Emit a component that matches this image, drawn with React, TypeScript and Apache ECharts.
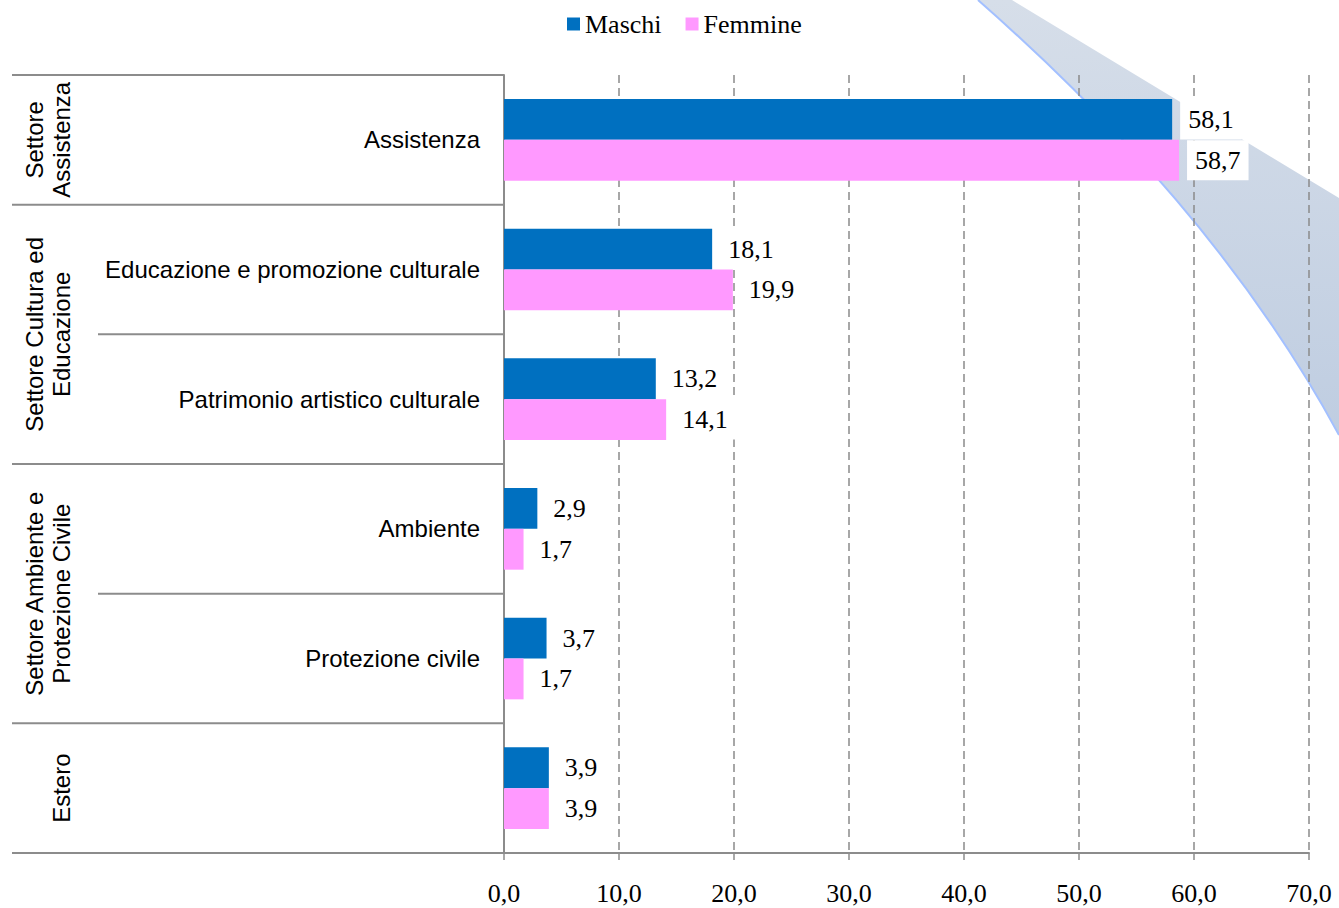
import React, { useEffect, useRef } from "react";
import * as echarts from "echarts";

const categories = [
  "Assistenza",
  "Educazione e promozione culturale",
  "Patrimonio artistico culturale",
  "Ambiente",
  "Protezione civile",
  "",
];
const maschi = [58.1, 18.1, 13.2, 2.9, 3.7, 3.9];
const femmine = [58.7, 19.9, 14.1, 1.7, 1.7, 3.9];
const groupNames = [
  "Settore\nAssistenza",
  "Settore Cultura ed\nEducazione",
  "Settore Ambiente e\nProtezione Civile",
  "Estero",
];
const groupSpans = [1, 2, 2, 1];
const xMin = 0;
const xMax = 70;
const xInterval = 10;

const W = 1339;
const H = 908;
const GRID_LEFT = 504;
const GRID_RIGHT = 30;
const GRID_TOP = 75;
const GRID_BOTTOM = 55;

echarts.graphic.registerShape(
  "swoosh",
  echarts.graphic.extendPath("M978,0 Q1218,211 1339,435 L1339,198 L1012,0 Z", {})
);

const fmt = (v: number) => v.toFixed(1).replace(".", ",");
const SERIF = "Liberation Serif, Times New Roman, serif";
const SANS = "Liberation Sans, Arial, sans-serif";

export default function App() {
  const ref = useRef<HTMLDivElement>(null);
  useEffect(() => {
    if (!ref.current) return;
    const chart = echarts.init(ref.current, undefined, { renderer: "svg" });
    const plotBottom = H - GRID_BOTTOM;
    const band = (plotBottom - GRID_TOP) / categories.length;
    const lineColor = "#8c8c8c";
    const graphics: any[] = [];

    graphics.push({
      type: "swoosh",
      x: 0,
      y: 0,
      z: -10,
      silent: true,
      style: {
        fill: new echarts.graphic.LinearGradient(0, 0, 0, 1, [
          { offset: 0, color: "#d6dee9" },
          { offset: 1, color: "#bfcde1" },
        ]),
      },
    });
    graphics.push({
      type: "bezierCurve",
      z: -9,
      silent: true,
      shape: { x1: 978, y1: 0, x2: 1339, y2: 435, cpx1: 1218, cpy1: 211 },
      style: { stroke: "#a3c0ff", lineWidth: 2, fill: null },
    });

    const groupStart: number[] = [];
    let acc = 0;
    groupSpans.forEach((s) => {
      groupStart.push(acc);
      acc += s;
    });
    for (let i = 0; i <= categories.length; i++) {
      const y = GRID_TOP + band * i;
      const isGroupEdge = i === categories.length || groupStart.includes(i);
      graphics.push({
        type: "line",
        silent: true,
        shape: { x1: isGroupEdge ? 12 : 98, y1: y, x2: GRID_LEFT, y2: y },
        style: { stroke: lineColor, lineWidth: 2 },
      });
    }
    groupNames.forEach((name, gi) => {
      const start = groupStart[gi];
      const cy = GRID_TOP + band * (start + groupSpans[gi] / 2);
      const lines = name.split("\n").length;
      graphics.push({
        type: "text",
        silent: true,
        x: lines > 1 ? 48 : 61,
        y: cy,
        rotation: Math.PI / 2,
        style: {
          text: name,
          align: "center",
          verticalAlign: "middle",
          fontFamily: SANS,
          fontSize: 24,
          lineHeight: 27,
          fill: "#000",
        },
      });
    });

    const labelCfg = {
      show: true,
      position: "right",
      distance: 8,
      formatter: (p: any) => fmt(p.value),
      fontFamily: SERIF,
      fontSize: 26,
      lineHeight: 26,
      color: "#000",
      backgroundColor: "#fff",
      padding: [7, 8],
    };

    chart.setOption({
      animation: false,
      legend: {
        top: 6,
        left: 562,
        itemWidth: 13,
        itemHeight: 13,
        itemGap: 24,
        icon: "rect",
        textStyle: { fontFamily: SERIF, fontSize: 26, color: "#000" },
        data: ["Maschi", "Femmine"],
      },
      grid: {
        left: GRID_LEFT,
        right: GRID_RIGHT,
        top: GRID_TOP,
        bottom: GRID_BOTTOM,
        containLabel: false,
      },
      xAxis: {
        type: "value",
        min: xMin,
        max: xMax,
        interval: xInterval,
        axisLine: { show: true, lineStyle: { color: lineColor, width: 2 } },
        axisTick: { show: true, length: 7, lineStyle: { color: lineColor, width: 1.5 } },
        splitLine: {
          show: true,
          lineStyle: { color: "#8a8a8a", width: 1.5, type: [8, 5] },
        },
        axisLabel: {
          formatter: (v: number) => fmt(v),
          fontFamily: SERIF,
          fontSize: 26,
          color: "#000",
          margin: 27,
        },
      },
      yAxis: {
        type: "category",
        inverse: true,
        data: categories,
        axisLine: { show: true, lineStyle: { color: lineColor, width: 2 } },
        axisTick: { show: false },
        axisLabel: {
          fontFamily: SANS,
          fontSize: 24,
          color: "#000",
          margin: 24,
        },
      },
      series: [
        {
          name: "Maschi",
          type: "bar",
          data: maschi,
          itemStyle: { color: "#0070c0" },
          barGap: "0%",
          barCategoryGap: "37%",
          label: labelCfg,
        },
        {
          name: "Femmine",
          type: "bar",
          data: femmine,
          itemStyle: { color: "#ff99ff" },
          barGap: "0%",
          barCategoryGap: "37%",
          label: labelCfg,
        },
      ],
      graphic: graphics,
    });
    return () => chart.dispose();
  }, []);
  return (
    <div
      ref={ref}
      style={{ position: "absolute", left: 0, top: 0, width: W + "px", height: H + "px" }}
    />
  );
}
